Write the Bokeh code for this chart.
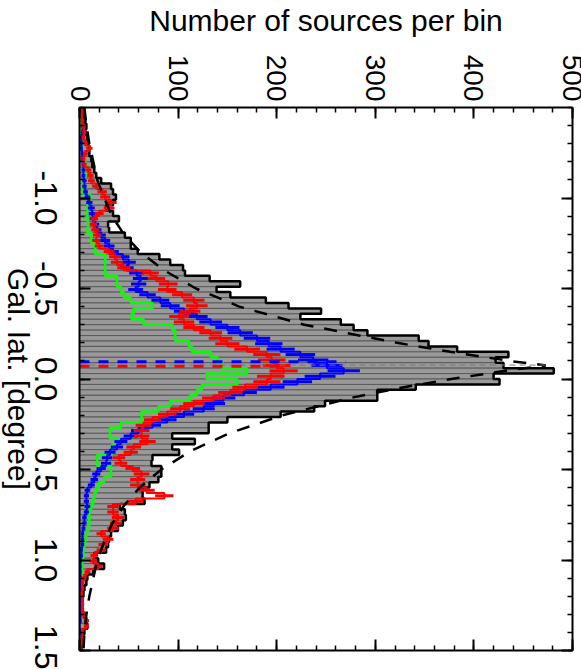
import math
import numpy as np
from bokeh.plotting import figure
from bokeh.layouts import row
from bokeh.models import Range1d, LinearAxis, FixedTicker, PrintfTickFormatter
from bokeh.embed import file_html
from bokeh.resources import INLINE

# ---------------- data ----------------
lat_start = -1.5          # first bin edge (degree)
bin_width = 0.03          # bin width (degree)

total_counts = [
    4, 5, 6, 7, 6, 8, 9, 10, 10, 12,
    13, 15, 17, 22, 32, 34, 37, 34, 27, 34,
    40, 29, 30, 46, 52, 52, 59, 81, 92, 105,
    107, 132, 163, 139, 153, 189, 212, 245, 224, 265,
    278, 292, 344, 354, 383, 435, 422, 430, 481, 420,
    426, 341, 302, 302, 249, 238, 204, 150, 131, 131,
    94, 117, 94, 101, 74, 73, 83, 83, 80, 71,
    64, 64, 66, 41, 46, 47, 44, 39, 32, 30,
    29, 27, 15, 19, 25, 14, 8, 7, 5, 4,
    3, 3, 3, 5, 7, 8, 5, 3, 2, 2,
]
red_counts = [
    3, 2, 3, 4, 5, 4, 6, 10, 6, 4,
    5, 9, 11, 12, 17, 23, 26, 32, 30, 20,
    15, 14, 16, 18, 17, 20, 30, 36, 38, 45,
    72, 78, 90, 89, 104, 116, 119, 112, 101, 106,
    116, 133, 143, 150, 170, 190, 195, 200, 207, 194,
    190, 168, 153, 136, 116, 102, 89, 74, 65, 63,
    63, 69, 55, 52, 40, 42, 54, 63, 59, 59,
    68, 86, 57, 34, 34, 39, 37, 34, 22, 29,
    24, 22, 15, 14, 19, 8, 5, 3, 3, 2,
    3, 3, 3, 5, 7, 7, 3, 3, 2, 1,
]
blue_counts = [
    2, 3, 3, 3, 3, 2, 2, 2, 3, 3,
    4, 4, 4, 5, 5, 6, 8, 10, 12, 13,
    14, 16, 18, 22, 26, 30, 34, 44, 50, 48,
    58, 62, 60, 57, 69, 82, 92, 106, 119, 133,
    150, 163, 180, 192, 204, 224, 237, 251, 268, 244,
    221, 194, 167, 146, 136, 126, 106, 89, 74, 60,
    52, 42, 38, 31, 28, 27, 22, 17, 15, 12,
    8, 7, 7, 8, 7, 5, 5, 4, 3, 3,
    3, 2, 2, 1, 1, 1, 1, 1, 1, 1,
    1, 1, 1, 1, 1, 0, 1, 0, 0, 0,
]
green_counts = [
    2, 2, 2, 2, 2, 2, 3, 3, 4, 5,
    6, 6, 6, 5, 3, 4, 11, 11, 8, 8,
    8, 9, 8, 12, 12, 16, 16, 26, 26, 26,
    26, 38, 38, 42, 45, 52, 74, 55, 53, 65,
    94, 97, 97, 111, 114, 133, 140, 145, 170, 129,
    160, 124, 119, 112, 92, 80, 63, 63, 42, 31,
    31, 42, 33, 33, 18, 18, 32, 32, 25, 20,
    17, 15, 14, 12, 10, 10, 10, 9, 7, 6,
    5, 4, 4, 3, 3, 2, 2, 1, 1, 1,
    1, 1, 1, 1, 1, 0, 1, 0, 0, 0,
]

# fitted profile (dashed)
fit_lat = [-1.5, -1.4, -1.3, -1.2, -1.1, -1.0, -0.9, -0.8, -0.7, -0.6, -0.5,
           -0.4, -0.3, -0.2, -0.15, -0.1, -0.075, -0.05, 0.0, 0.05, 0.1,
           0.2, 0.3, 0.4, 0.5, 0.6, 0.7, 0.8, 0.9, 1.0, 1.1, 1.2, 1.3, 1.4, 1.5]
fit_counts = [5, 7, 10, 14, 18, 25, 33, 45, 62, 86, 118,
              162, 228, 322, 376, 436, 473, 438, 377, 324, 279,
              206, 152, 112, 83, 61, 45, 33, 25, 18, 14, 10, 7, 5, 4]

# peak positions of the fits (degree) and extent of their markers (counts)
peak_lat_total, peak_len_total = -0.077, 473
peak_lat_red, peak_len_red = -0.070, 205
peak_lat_blue, peak_len_blue = -0.095, 270

lat_ticks = [-1.0, -0.5, 0.0, 0.5, 1.0, 1.5]
count_ticks = [0, 100, 200, 300, 400, 500]

# ---------------- derived ----------------
n_bins = len(total_counts)
edges = lat_start + bin_width * np.arange(n_bins + 1)
centers = 0.5 * (edges[:-1] + edges[1:])


def step_path(counts, close=False):
    xs, ys = [], []
    if close:
        xs.append(0.0); ys.append(edges[0])
    for i, c in enumerate(counts):
        xs += [c, c]
        ys += [edges[i], edges[i + 1]]
    if close:
        xs.append(0.0); ys.append(edges[-1])
    return xs, ys


FONT = "Liberation Sans"
lat_range = Range1d(1.5, -1.5)      # latitude grows downwards
count_minor = list(np.arange(0, 501, 20))
lat_minor = list(np.round(np.arange(-1.5, 1.51, 0.1), 2))

# ---------------- main plot ----------------
p = figure(width=511, height=669,
           x_range=Range1d(0, 500), y_range=lat_range,
           x_axis_location="above", y_axis_location="left",
           output_backend="svg", toolbar_location=None,
           min_border_left=9, min_border_top=103, min_border_right=9, min_border_bottom=19,
           background_fill_color="white", border_fill_color="white")
p.grid.visible = False
p.outline_line_color = None

p.hbar(y=centers, height=bin_width, left=0, right=total_counts,
       fill_color="#999999", line_color="#5a5a5a", line_width=1)
bx, by = step_path(total_counts, close=True)
p.line(bx, by, line_color="black", line_width=2.5)

gx, gy = step_path(green_counts)
p.line(gx, gy, line_color="#00ff00", line_width=2.5)

b_arr = np.array(blue_counts, dtype=float)
berr = np.sqrt(b_arr)
bx2, by2 = step_path(blue_counts)
p.line(bx2, by2, line_color="#0000ff", line_width=2)
p.segment(x0=b_arr - berr, x1=b_arr + berr, y0=centers, y1=centers,
          line_color="#0000ff", line_width=3)

r_arr = np.array(red_counts, dtype=float)
rerr = np.sqrt(r_arr)
rx, ry = step_path(red_counts)
p.line(rx, ry, line_color="#ff0000", line_width=2)
p.segment(x0=r_arr - rerr, x1=r_arr + rerr, y0=centers, y1=centers,
          line_color="#ff0000", line_width=3)

p.line(fit_counts, fit_lat, line_color="black", line_width=2.5, line_dash="13 11")

p.segment(x0=[0], x1=[peak_len_total], y0=[peak_lat_total], y1=[peak_lat_total],
          line_color="#777777", line_width=1, line_dash="6 4")
p.segment(x0=[0], x1=[peak_len_blue], y0=[peak_lat_blue], y1=[peak_lat_blue],
          line_color="#0000ff", line_width=3, line_dash="10 9")
p.segment(x0=[0], x1=[peak_len_red], y0=[peak_lat_red], y1=[peak_lat_red],
          line_color="#ff0000", line_width=3, line_dash="10 9")


def tick_style(ax):
    ax.axis_line_width = 2
    ax.axis_line_color = "black"
    ax.major_tick_in = 11
    ax.major_tick_out = 0
    ax.minor_tick_in = 5
    ax.minor_tick_out = 0
    ax.major_tick_line_width = 2
    ax.minor_tick_line_width = 1.5
    ax.major_tick_line_color = "black"
    ax.minor_tick_line_color = "black"


def hide_labels(ax):
    ax.major_label_text_color = None
    ax.major_label_standoff = 0


# counts axis on top, with labels
xa = p.xaxis[0]
xa.ticker = FixedTicker(ticks=count_ticks, minor_ticks=count_minor)
tick_style(xa)
xa.major_label_text_font = FONT
xa.major_label_text_font_size = "28px"
xa.major_label_text_color = "black"
xa.major_label_orientation = -math.pi / 2
xa.major_label_standoff = 6
xa.axis_label = "Number of sources per bin"
xa.axis_label_text_font = FONT
xa.axis_label_text_font_size = "30px"
xa.axis_label_text_font_style = "normal"
xa.axis_label_text_color = "black"
xa.axis_label_standoff = 15

# latitude axis on the left: ticks only (its labels live in the side strip)
ya = p.yaxis[0]
ya.ticker = FixedTicker(ticks=lat_ticks, minor_ticks=lat_minor)
tick_style(ya)
hide_labels(ya)

xb = LinearAxis(ticker=FixedTicker(ticks=count_ticks, minor_ticks=count_minor))
tick_style(xb); hide_labels(xb)
p.add_layout(xb, "below")
yb = LinearAxis(ticker=FixedTicker(ticks=lat_ticks, minor_ticks=lat_minor))
tick_style(yb); hide_labels(yb)
p.add_layout(yb, "right")

# ---------------- side strip: latitude tick labels and title, reading downwards ----------------
s = figure(width=70, height=669, x_range=Range1d(0, 1), y_range=lat_range,
           x_axis_location=None, y_axis_location=None,
           output_backend="svg", toolbar_location=None,
           min_border_left=0, min_border_right=69, min_border_top=103, min_border_bottom=19,
           background_fill_color="white", border_fill_color="white")
s.outline_line_color = None
s.grid.visible = False

title_ax = LinearAxis(ticker=FixedTicker(ticks=[]))
title_ax.axis_line_color = None
title_ax.major_tick_in = 0
title_ax.major_tick_out = 0
title_ax.minor_tick_in = 0
title_ax.minor_tick_out = 0
title_ax.major_label_standoff = 0
title_ax.axis_label = "Gal. lat. [degree]"
title_ax.axis_label_text_font = FONT
title_ax.axis_label_text_font_size = "30px"
title_ax.axis_label_text_font_style = "normal"
title_ax.axis_label_text_color = "black"
title_ax.axis_label_standoff = 0
s.add_layout(title_ax, "right")

lab_ax = LinearAxis(ticker=FixedTicker(ticks=lat_ticks),
                    formatter=PrintfTickFormatter(format="%.1f"))
lab_ax.axis_line_color = None
lab_ax.major_tick_in = 0
lab_ax.major_tick_out = 0
lab_ax.minor_tick_in = 0
lab_ax.minor_tick_out = 0
lab_ax.major_label_orientation = "parallel"
lab_ax.major_label_text_font = FONT
lab_ax.major_label_text_font_size = "32px"
lab_ax.major_label_text_color = "black"
lab_ax.major_label_standoff = -3
s.add_layout(lab_ax, "right")

layout = row(s, p, spacing=0)

open("out.html", "w").write(file_html(layout, INLINE))
